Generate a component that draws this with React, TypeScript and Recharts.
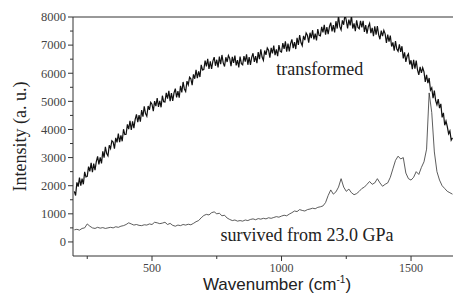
import React from 'react';
import { LineChart, Line, XAxis, YAxis, ReferenceLine, ReferenceDot, Label } from 'recharts';

// transformed spectrum (sampled every 5 cm-1)
const transformedWavenumbers = [
  200, 205, 210, 215, 220, 225, 230, 235, 240, 245,
  250, 255, 260, 265, 270, 275, 280, 285, 290, 295,
  300, 305, 310, 315, 320, 325, 330, 335, 340, 345,
  350, 355, 360, 365, 370, 375, 380, 385, 390, 395,
  400, 405, 410, 415, 420, 425, 430, 435, 440, 445,
  450, 455, 460, 465, 470, 475, 480, 485, 490, 495,
  500, 505, 510, 515, 520, 525, 530, 535, 540, 545,
  550, 555, 560, 565, 570, 575, 580, 585, 590, 595,
  600, 605, 610, 615, 620, 625, 630, 635, 640, 645,
  650, 655, 660, 665, 670, 675, 680, 685, 690, 695,
  700, 705, 710, 715, 720, 725, 730, 735, 740, 745,
  750, 755, 760, 765, 770, 775, 780, 785, 790, 795,
  800, 805, 810, 815, 820, 825, 830, 835, 840, 845,
  850, 855, 860, 865, 870, 875, 880, 885, 890, 895,
  900, 905, 910, 915, 920, 925, 930, 935, 940, 945,
  950, 955, 960, 965, 970, 975, 980, 985, 990, 995,
  1000, 1005, 1010, 1015, 1020, 1025, 1030, 1035, 1040, 1045,
  1050, 1055, 1060, 1065, 1070, 1075, 1080, 1085, 1090, 1095,
  1100, 1105, 1110, 1115, 1120, 1125, 1130, 1135, 1140, 1145,
  1150, 1155, 1160, 1165, 1170, 1175, 1180, 1185, 1190, 1195,
  1200, 1205, 1210, 1215, 1220, 1225, 1230, 1235, 1240, 1245,
  1250, 1255, 1260, 1265, 1270, 1275, 1280, 1285, 1290, 1295,
  1300, 1305, 1310, 1315, 1320, 1325, 1330, 1335, 1340, 1345,
  1350, 1355, 1360, 1365, 1370, 1375, 1380, 1385, 1390, 1395,
  1400, 1405, 1410, 1415, 1420, 1425, 1430, 1435, 1440, 1445,
  1450, 1455, 1460, 1465, 1470, 1475, 1480, 1485, 1490, 1495,
  1500, 1505, 1510, 1515, 1520, 1525, 1530, 1535, 1540, 1545,
  1550, 1555, 1560, 1565, 1570, 1575, 1580, 1585, 1590, 1595,
  1600, 1605, 1610, 1615, 1620, 1625, 1630, 1635, 1640, 1645,
  1650, 1655, 1660,
];

const transformedIntensity = [
  1800, 1650, 2120, 1970, 2290, 2000, 2250, 2050, 2490, 2310,
  2330, 2680, 2510, 2810, 2480, 2790, 2550, 2860, 3040, 2760,
  3010, 2790, 3220, 3000, 3380, 3140, 3060, 3440, 3320, 3600,
  3550, 3320, 3700, 3540, 3850, 3550, 3790, 3580, 4010, 3820,
  3830, 4180, 4010, 4310, 3980, 4290, 4050, 4360, 4540, 4260,
  4510, 4275, 4690, 4455, 4820, 4565, 4470, 4835, 4700, 4965,
  4900, 4650, 5010, 4830, 5120, 4800, 5020, 4790, 5200, 4990,
  4980, 5300, 5100, 5370, 5010, 5290, 5020, 5300, 5450, 5140,
  5360, 5130, 5550, 5320, 5690, 5440, 5350, 5720, 5590, 5860,
  5800, 5575, 5960, 5805, 6120, 5825, 6070, 5865, 6300, 6115,
  6130, 6450, 6245, 6510, 6150, 6425, 6150, 6430, 6575, 6265,
  6480, 6210, 6590, 6320, 6650, 6370, 6240, 6570, 6400, 6630,
  6530, 6250, 6580, 6370, 6630, 6280, 6470, 6210, 6590, 6340,
  6300, 6610, 6410, 6670, 6300, 6575, 6300, 6570, 6710, 6400,
  6610, 6360, 6750, 6500, 6850, 6575, 6460, 6810, 6655, 6900,
  6820, 6555, 6900, 6705, 6980, 6645, 6850, 6605, 7000, 6775,
  6750, 7070, 6865, 7135, 6770, 7050, 6780, 7055, 7205, 6890,
  7110, 6860, 7260, 7010, 7360, 7090, 6980, 7330, 7180, 7430,
  7350, 7090, 7440, 7250, 7530, 7200, 7410, 7170, 7570, 7350,
  7330, 7650, 7450, 7720, 7370, 7640, 7390, 7660, 7800, 7490,
  7710, 7450, 7850, 7590, 8050, 7655, 7540, 7880, 7725, 8100,
  7880, 7590, 7910, 7700, 8050, 7590, 7770, 7500, 7880, 7630,
  7580, 7865, 7630, 7865, 7470, 7715, 7410, 7655, 7770, 7425,
  7610, 7315, 7670, 7375, 7680, 7365, 7210, 7515, 7320, 7525,
  7400, 7080, 7370, 7120, 7340, 6950, 7100, 6800, 7140, 6860,
  6780, 7030, 6760, 6960, 6530, 6740, 6400, 6610, 6690, 6310,
  6460, 6145, 6480, 6165, 6450, 6115, 5940, 6225, 6010, 6195,
  6050, 5690, 5940, 5650, 5830, 5400, 5480, 5110, 5380, 5030,
  4880, 5080, 4760, 4910, 4430, 4590, 4150, 4300, 4100, 3850,
  3950, 3620, 3700,
];

// survived spectrum (sampled every 10 cm-1)
const survivedWavenumbers = [
  200, 210, 220, 230, 240, 250, 260, 270, 280, 290,
  300, 310, 320, 330, 340, 350, 360, 370, 380, 390,
  400, 410, 420, 430, 440, 450, 460, 470, 480, 490,
  500, 510, 520, 530, 540, 550, 560, 570, 580, 590,
  600, 610, 620, 630, 640, 650, 660, 670, 680, 690,
  700, 710, 720, 730, 740, 750, 760, 770, 780, 790,
  800, 810, 820, 830, 840, 850, 860, 870, 880, 890,
  900, 910, 920, 930, 940, 950, 960, 970, 980, 990,
  1000, 1010, 1020, 1030, 1040, 1050, 1060, 1070, 1080, 1090,
  1100, 1110, 1120, 1130, 1140, 1150, 1160, 1170, 1180, 1190,
  1200, 1210, 1220, 1230, 1240, 1250, 1260, 1270, 1280, 1290,
  1300, 1310, 1320, 1330, 1340, 1350, 1360, 1370, 1380, 1390,
  1400, 1410, 1420, 1430, 1440, 1450, 1460, 1470, 1480, 1490,
  1500, 1510, 1520, 1530, 1540, 1550, 1560, 1570, 1580, 1590,
  1600, 1610, 1620, 1630, 1640, 1650, 1660,
];

const survivedIntensity = [
  430, 450, 420, 480, 500, 640, 560, 500, 480, 520,
  490, 510, 480, 500, 520, 500, 540, 520, 560, 580,
  620, 680, 640, 600, 620, 590, 580, 610, 600, 640,
  620, 700, 680, 650, 670, 700, 620, 660, 590, 560,
  600, 580, 620, 600, 630, 610, 660, 720, 760, 860,
  940, 980, 960, 1040, 1070, 1000, 1020, 930, 950, 850,
  800, 760, 780, 740, 760, 740, 780, 760, 800, 820,
  790, 830, 810, 840, 820, 860, 840, 870, 900, 880,
  920, 950, 930, 990, 1040, 1100, 1080, 1150, 1120, 1100,
  1150, 1170, 1200, 1180, 1230, 1250, 1280, 1400, 1650, 1850,
  1700, 1780, 1950, 2250, 1950, 1800, 1880, 1750, 1680, 1720,
  1800, 1900, 1950, 2050, 2150, 2050, 2100, 2250, 2100, 1980,
  2050, 2100, 2300, 2600, 2900, 3050, 2950, 3000, 2450, 2250,
  2200, 2300, 2500, 2400, 2650, 2850, 3300, 5300, 4600, 3200,
  2500, 2200, 2000, 1900, 1800, 1750, 1700,
];

const xTicks = [250, 500, 750, 1000, 1250, 1500];
const xLabeledTicks = [500, 1000, 1500];
const yTicks = [0, 500, 1000, 1500, 2000, 2500, 3000, 3500, 4000, 4500, 5000, 5500, 6000, 6500, 7000, 7500, 8000];
const yLabeledTicks = [0, 1000, 2000, 3000, 4000, 5000, 6000, 7000, 8000];

const transformedData = transformedWavenumbers.map((w, i) => ({ w, v: transformedIntensity[i] }));
const survivedData = survivedWavenumbers.map((w, i) => ({ w, v: survivedIntensity[i] }));

const SERIF = '"Liberation Serif", "Times New Roman", Times, "DejaVu Serif", serif';
const SANS = '"Liberation Sans", Arial, Helvetica, sans-serif';
const AXIS = '#333';
const TICKTEXT = '#444';

function XTick(props: any) {
  const { x, y, payload } = props;
  const major = xLabeledTicks.includes(payload.value);
  return (
    <g>
      <line x1={x} x2={x} y1={y} y2={y + (major ? 5 : 3)} stroke={AXIS} strokeWidth={1} />
      {major && (
        <text x={x} y={y + 16} textAnchor="middle" fill={TICKTEXT} style={{ fontFamily: SERIF, fontSize: 12 }}>
          {payload.value}
        </text>
      )}
    </g>
  );
}

function YTick(props: any) {
  const { x, y, payload } = props;
  const major = yLabeledTicks.includes(payload.value);
  return (
    <g>
      <line x1={x - (major ? 5 : 3)} x2={x} y1={y} y2={y} stroke={AXIS} strokeWidth={1} />
      {major && (
        <text x={x - 7} y={y + 4.3} textAnchor="end" fill={TICKTEXT} style={{ fontFamily: SERIF, fontSize: 12.5 }}>
          {payload.value}
        </text>
      )}
    </g>
  );
}

function XTitle(props: any) {
  const { viewBox } = props;
  const cx = viewBox.x + viewBox.width / 2 + 14;
  return (
    <text x={cx} y={viewBox.y + 34} textAnchor="middle" fill="#222" style={{ fontFamily: SANS, fontSize: 17 }}>
      Wavenumber (cm
      <tspan style={{ fontSize: 10 }} dy={-7}>-1</tspan>
      <tspan dy={7}>)</tspan>
    </text>
  );
}

function YTitle(props: any) {
  const { viewBox } = props;
  const cx = viewBox.x + 7;
  const cy = viewBox.y + viewBox.height / 2;
  return (
    <text
      x={cx}
      y={cy}
      transform={`rotate(-90, ${cx}, ${cy})`}
      textAnchor="middle"
      dominantBaseline="central"
      fill="#222"
      style={{ fontFamily: SERIF, fontSize: 18 }}
    >
      Intensity (a. u.)
    </text>
  );
}

function Annotation(props: any) {
  const { viewBox, text } = props;
  return (
    <text
      x={viewBox.x + viewBox.width / 2}
      y={viewBox.y + viewBox.height / 2}
      textAnchor="middle"
      dominantBaseline="central"
      fill="#222"
      style={{ fontFamily: SERIF, fontSize: 18 }}
    >
      {text}
    </text>
  );
}

export default function App() {
  return (
    <div style={{ position: 'absolute', left: 0, top: 0, width: 453, height: 299, overflow: 'hidden', background: '#fff' }}>
      <LineChart width={453} height={299} margin={{ top: 17, right: 0, bottom: 13, left: 13 }}>
        <XAxis
          dataKey="w"
          type="number"
          domain={[195, 1662]}
          allowDataOverflow
          ticks={xTicks}
          interval={0}
          tick={<XTick />}
          tickLine={false}
          tickSize={0}
          tickMargin={0}
          height={30}
          axisLine={{ stroke: AXIS }}
          label={<Label content={<XTitle />} />}
        />
        <YAxis
          type="number"
          domain={[-500, 8000]}
          allowDataOverflow
          ticks={yTicks}
          interval={0}
          tick={<YTick />}
          tickLine={false}
          tickSize={0}
          tickMargin={0}
          width={60}
          axisLine={{ stroke: AXIS }}
          label={<Label content={<YTitle />} />}
        />
        <ReferenceLine y={8000} stroke={AXIS} strokeWidth={1} />
        <Line
          data={transformedData}
          type="linear"
          dataKey="v"
          stroke="#111"
          strokeWidth={1.2}
          dot={false}
          isAnimationActive={false}
        />
        <Line
          data={survivedData}
          type="linear"
          dataKey="v"
          stroke="#333"
          strokeWidth={0.8}
          dot={false}
          isAnimationActive={false}
        />
        <ReferenceDot
          x={1148}
          y={6140}
          r={0}
          fill="none"
          stroke="none"
          label={<Label content={<Annotation text="transformed" />} />}
        />
        <ReferenceDot
          x={1098}
          y={250}
          r={0}
          fill="none"
          stroke="none"
          label={<Label content={<Annotation text="survived from 23.0 GPa" />} />}
        />
      </LineChart>
    </div>
  );
}
